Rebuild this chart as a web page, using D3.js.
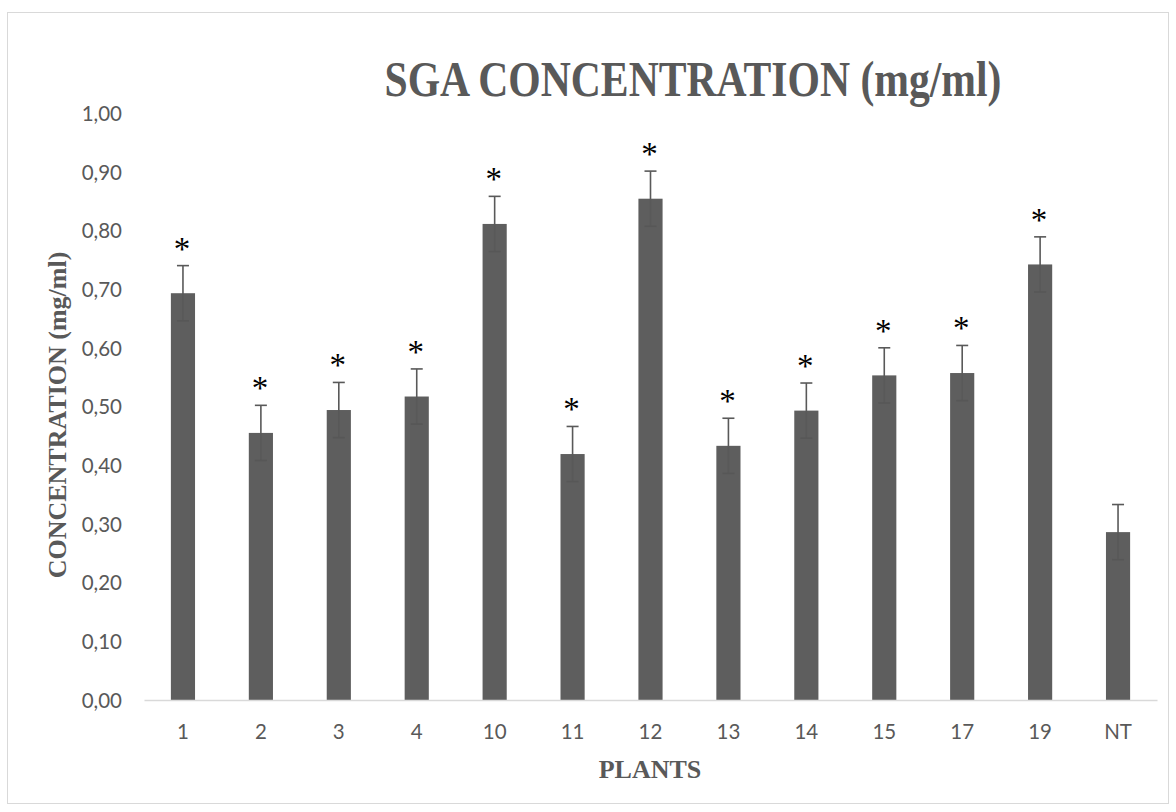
<!DOCTYPE html>
<html>
<head>
<meta charset="utf-8">
<script src="https://cdn.jsdelivr.net/npm/d3@7"></script>
<style>
  html, body { margin: 0; padding: 0; background: #fff; }
  svg { display: block; }
</style>
</head>
<body>
<svg id="chart" width="1176" height="812"></svg>
<script>
const categories = ["1", "2", "3", "4", "10", "11", "12", "13", "14", "15", "17", "19", "NT"];
const values = [0.693, 0.455, 0.494, 0.517, 0.811, 0.419, 0.854, 0.433, 0.493, 0.553, 0.557, 0.742, 0.286];
const errors = [0.047, 0.047, 0.047, 0.047, 0.047, 0.047, 0.047, 0.047, 0.047, 0.047, 0.047, 0.047, 0.047];
const significant = [true, true, true, true, true, true, true, true, true, true, true, true, false];
const yTicks = [0, 0.1, 0.2, 0.3, 0.4, 0.5, 0.6, 0.7, 0.8, 0.9, 1.0];
const titleText = "SGA CONCENTRATION (mg/ml)";
const xTitle = "PLANTS";
const yTitle = "CONCENTRATION (mg/ml)";

const svg = d3.select("#chart");
const textColor = "#595959";
const barColor = "#5e5e5e";

// chart border
svg.append("rect")
  .attr("x", 7.5).attr("y", 12.5)
  .attr("width", 1161).attr("height", 791)
  .attr("fill", "#fff").attr("stroke", "#d9d9d9").attr("stroke-width", 1);

const plot = { left: 144, right: 1157, top: 113, bottom: 700 };

const x = d3.scaleBand()
  .domain(categories)
  .range([plot.left, plot.right])
  .paddingInner(0.69)
  .paddingOuter(0.345);

const y = d3.scaleLinear().domain([0, 1]).range([plot.bottom, plot.top]);

const fmt = d => d3.format(".2f")(d).replace(".", ",");

// y axis labels
const yAxis = d3.axisLeft(y).tickValues(yTicks).tickFormat(fmt).tickSize(0).tickPadding(0);
const yg = svg.append("g").attr("transform", `translate(122,0)`).call(yAxis);
yg.select(".domain").remove();
yg.selectAll("text")
  .attr("fill", textColor)
  .style("font-family", "Lato, 'Open Sans', sans-serif")
  .style("font-size", "20.5px")
  .attr("dy", "0.36em");

// bars
svg.append("g").selectAll("rect")
  .data(categories)
  .join("rect")
  .attr("x", d => x(d))
  .attr("width", x.bandwidth())
  .attr("y", (d, i) => y(values[i]))
  .attr("height", (d, i) => y(0) - y(values[i]))
  .attr("fill", barColor);

// x axis
const xAxis = d3.axisBottom(x).tickSize(0).tickPadding(0);
const xg = svg.append("g").attr("transform", `translate(0,${plot.bottom})`).call(xAxis);
xg.select(".domain").attr("stroke", "#d9d9d9").attr("stroke-width", 1.5);
xg.selectAll("text")
  .attr("fill", textColor)
  .attr("y", 39)
  .attr("dy", 0)
  .style("font-family", "Lato, 'Open Sans', sans-serif")
  .style("font-size", "20.5px");

// error bars
const eb = svg.append("g").attr("stroke", "#595959").attr("stroke-width", 1.6).attr("fill", "none");
categories.forEach((c, i) => {
  const cx = x(c) + x.bandwidth() / 2;
  const top = y(values[i] + errors[i]);
  const bot = y(values[i] - errors[i]);
  eb.append("line").attr("x1", cx).attr("x2", cx).attr("y1", top).attr("y2", bot);
  eb.append("line").attr("x1", cx - 6).attr("x2", cx + 6).attr("y1", top).attr("y2", top);
  eb.append("line").attr("x1", cx - 6).attr("x2", cx + 6).attr("y1", bot).attr("y2", bot).attr("stroke", "#575757");
});

// significance asterisks
svg.append("g").selectAll("text")
  .data(categories.filter((c, i) => significant[i]))
  .join("text")
  .attr("x", d => x(d) + x.bandwidth() / 2 - 1)
  .attr("y", d => { const i = categories.indexOf(d); return y(values[i] + errors[i]) - 6; })
  .attr("text-anchor", "middle")
  .attr("fill", "#000")
  .style("font-family", "'Liberation Serif', 'Times New Roman', serif")
  .style("font-size", "33px")
  .text("*");

// title
svg.append("text")
  .attr("x", 693).attr("y", 96)
  .attr("text-anchor", "middle")
  .attr("fill", textColor)
  .attr("textLength", 617)
  .attr("lengthAdjust", "spacingAndGlyphs")
  .style("font-family", "'Liberation Serif', 'Times New Roman', serif")
  .style("font-weight", "bold")
  .style("font-size", "50px")
  .text(titleText);

// x title
svg.append("text")
  .attr("x", 650).attr("y", 778)
  .attr("text-anchor", "middle")
  .attr("fill", textColor)
  .style("font-family", "'Liberation Serif', 'Times New Roman', serif")
  .style("font-weight", "bold")
  .style("font-size", "26px")
  .text(xTitle);

// y title
svg.append("text")
  .attr("transform", "translate(66,415) rotate(-90)")
  .attr("text-anchor", "middle")
  .attr("fill", textColor)
  .style("font-family", "'Liberation Serif', 'Times New Roman', serif")
  .style("font-weight", "bold")
  .style("font-size", "26px")
  .text(yTitle);
</script>
</body>
</html>
